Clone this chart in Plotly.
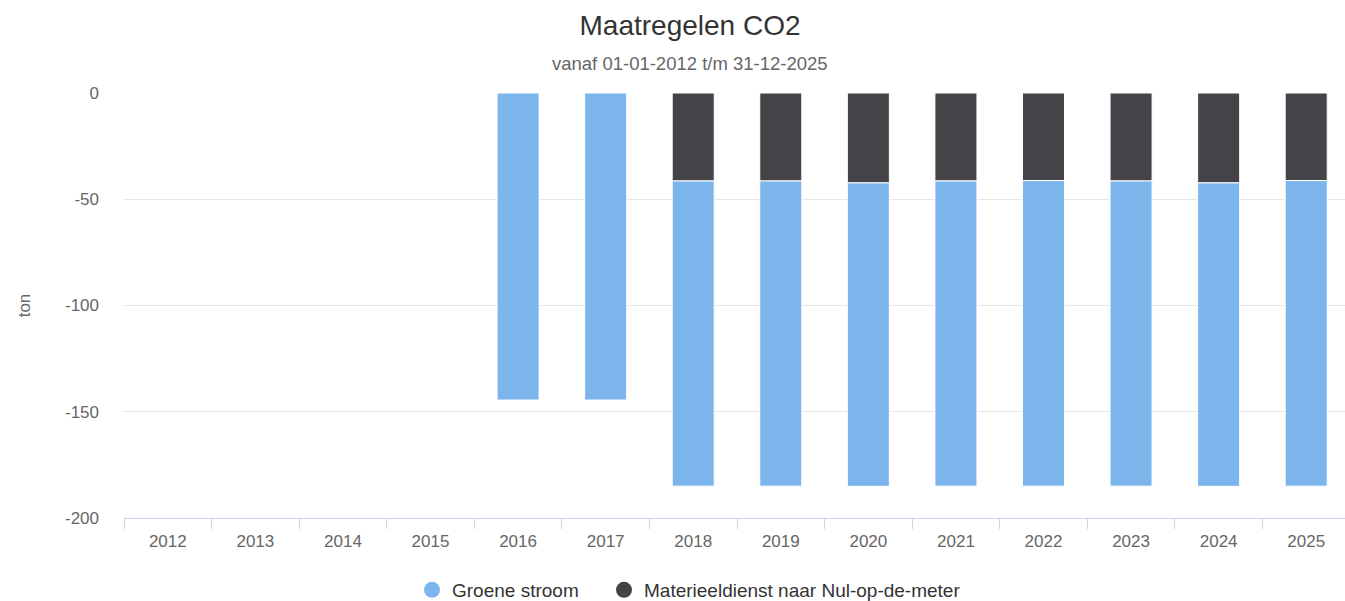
import plotly.graph_objects as go

years = [str(y) for y in range(2012, 2026)]
groene_stroom = [None, None, None, None, -144.5, -144.5, -143.6, -143.6, -142.8, -143.6, -143.8, -143.6, -142.8, -143.8]
materieeldienst = [None, None, None, None, None, None, -41.4, -41.4, -42.3, -41.4, -41.2, -41.4, -42.3, -41.2]
y_ticks = [0, -50, -100, -150, -200]
y_tick_labels = ["0", "-50", "-100", "-150", "-200"]

BLUE = "#7cb5ec"
DARK = "#434348"
FONT = "Liberation Sans, Arial, Helvetica, sans-serif"
W, H = 1350, 601

fig = go.Figure()
fig.add_trace(go.Bar(x=years, y=materieeldienst, name="Materieeldienst naar Nul-op-de-meter",
                     marker=dict(color=DARK, line=dict(color="white", width=1)), showlegend=False))
fig.add_trace(go.Bar(x=years, y=groene_stroom, name="Groene stroom",
                     marker=dict(color=BLUE, line=dict(color="white", width=1)), showlegend=False))
# legend entries with circle markers
fig.add_trace(go.Scatter(x=[None], y=[None], mode="markers", name="Groene stroom", legend="legend",
                         marker=dict(color=BLUE, size=18, symbol="circle")))
fig.add_trace(go.Scatter(x=[None], y=[None], mode="markers", name="Materieeldienst naar Nul-op-de-meter",
                         legend="legend2", marker=dict(color=DARK, size=18, symbol="circle")))

legend_common = dict(orientation="h", xref="container", xanchor="left",
                     y=(H-590)/H, yref="container", yanchor="middle",
                     font=dict(size=19, color="#333333", family=FONT), itemsizing="trace",
                     bgcolor="rgba(0,0,0,0)")

fig.update_layout(
    width=W, height=H,
    margin=dict(l=124, r=0, t=93, b=83, autoexpand=False),
    paper_bgcolor="white", plot_bgcolor="white",
    font=dict(family=FONT, color="#666666"),
    barmode="relative", bargap=0.52,
    title=dict(text="Maatregelen CO2", x=690/W, xref="container", xanchor="center",
               y=1-25/H, yref="container", yanchor="middle",
               font=dict(size=28, color="#333333", family=FONT)),
    annotations=[dict(text="vanaf 01-01-2012 t/m 31-12-2025", xref="paper", yref="paper",
                      x=(690-124)/(W-124), y=1+(93-63)/425, xanchor="center", yanchor="middle",
                      showarrow=False, font=dict(size=18.5, color="#666666", family=FONT))],
    legend=dict(x=412/W, **legend_common),
    legend2=dict(x=604/W, **legend_common),
    showlegend=True,
)
fig.update_xaxes(
    type="category", showline=True, linecolor="#ccd6eb", linewidth=1,
    ticks="outside", tickson="boundaries", ticklen=10, tickcolor="#ccd6eb",
    tickfont=dict(size=17, color="#666666", family=FONT), showgrid=False,
    ticklabelstandoff=8, automargin=False,
)
fig.update_yaxes(
    range=[-200, 0], tickvals=y_ticks, ticktext=y_tick_labels, showgrid=True, gridcolor="#e6e6e6",
    zeroline=False, tickfont=dict(size=17, color="#666666", family=FONT),
    ticklabelstandoff=24, automargin=False,
    title=dict(text="ton", font=dict(size=17, color="#666666", family=FONT), standoff=30),
)

fig.write_html("out.html", config={"displayModeBar": False},
               post_script="document.body.style.margin='0';document.body.style.overflow='hidden';")
